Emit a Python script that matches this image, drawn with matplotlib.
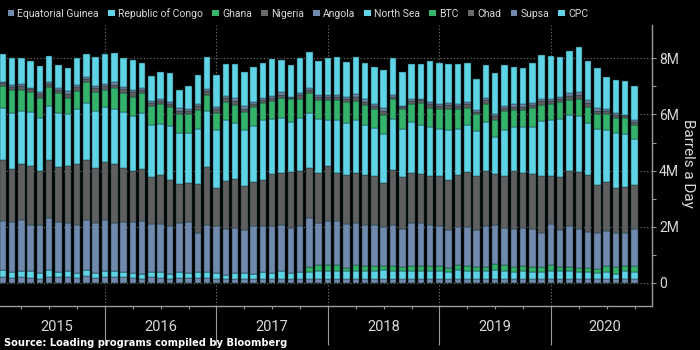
import numpy as np
import pandas as pd
import matplotlib
matplotlib.use('Agg')
import matplotlib.pyplot as plt
from matplotlib.patches import Patch
from matplotlib.ticker import FixedLocator, FuncFormatter
from matplotlib import font_manager
import matplotlib.transforms as mtransforms

# ---------------- data (million barrels a day) ----------------
dates = pd.date_range('2015-02-01', '2020-10-01', freq='MS')
years = ['2015', '2016', '2017', '2018', '2019', '2020']

eq_guinea = [.20,.18,.20,.18,.15,.20,.20,.20,.18,.25,.18,.20,.20,.20,.18,.15,.20,.18,.13,.18,.18,.18,.18,.15,
             .13,.14,.15,.13,.15,.15,.13,.13,.13,.13,.13,.13,.13,.13,.13,.13,.13,.13,.13,.13,.13,.13,.13,.13,
             .13,.13,.13,.13,.13,.13,.13,.13,.13,.13,.13,.13,.13,.13,.13,.13,.13,.13,.13,.13,.13]
congo = [.25,.21,.22,.24,.19,.25,.17,.22,.16,.20,.16,.22,.22,.19,.16,.17,.19,.21,.17,.19,.16,.19,.21,.19,
         .14,.20,.19,.18,.24,.19,.29,.21,.25,.26,.29,.29,.29,.29,.29,.29,.29,.31,.29,.29,.29,.29,.29,.29,
         .25,.31,.30,.30,.30,.32,.30,.27,.29,.27,.27,.30,.30,.29,.27,.27,.23,.27,.18,.30,.27]
ghana = [0]*33 + [.17,.20,.20,.20,.11,.20,.19,.19,.17,.19,.13,.19,.19,.19,.19,
                  .15,.18,.17,.14,.14,.20,.21,.17,.17,.17,.15,.21,.14,.13,.12,.12,.12,.19,.24,.16,.19]
angola = [1.76,1.76,1.80,1.64,1.72,1.86,1.78,1.71,1.72,1.77,1.79,1.81,1.71,1.76,1.81,1.89,1.71,1.71,1.71,1.76,
          1.81,1.42,1.67,1.67,1.64,1.62,1.55,1.70,1.62,1.67,1.64,1.62,1.63,1.76,1.52,1.59,1.59,1.57,1.50,1.46,
          1.45,1.37,1.45,1.35,1.51,1.53,1.45,1.42,1.35,1.38,1.40,1.32,1.45,1.41,1.32,1.34,1.37,1.34,1.21,1.46,
          1.31,1.47,1.38,1.29,1.28,1.25,1.21,1.19,1.31]
nigeria = [2.16,1.91,2.01,2.12,1.94,2.06,1.97,2.05,2.17,2.15,1.97,2.07,2.10,1.95,1.85,1.84,1.67,1.73,1.67,1.38,
           1.40,1.74,2.08,1.38,1.71,1.74,1.57,1.59,1.66,1.86,1.86,2.00,1.99,1.77,1.79,1.97,1.70,1.74,1.81,1.77,
           1.75,1.59,1.96,1.88,1.80,1.73,1.74,1.77,1.78,1.84,1.96,1.92,1.96,1.81,1.84,2.09,1.96,1.96,2.04,1.70,
           1.88,1.98,2.05,2.02,1.72,1.74,1.63,1.63,1.59]
north_sea = [1.87,2.00,1.90,1.90,1.88,1.92,1.94,1.83,1.97,2.05,2.02,1.96,1.97,1.98,1.94,2.00,1.84,1.83,1.91,1.84,
             1.79,1.95,1.99,2.04,2.17,1.99,1.98,2.00,2.13,1.96,1.95,1.77,1.89,1.97,1.90,1.64,1.90,1.86,1.86,1.79,
             1.72,1.74,1.81,1.70,1.81,1.74,1.75,1.68,1.80,1.64,1.65,1.60,1.75,1.31,1.64,1.56,1.64,1.69,1.96,2.00,
             2.07,1.97,1.99,1.86,2.00,1.86,1.95,1.90,1.64]
btc = [.77,.83,.74,.72,.72,.70,.71,.59,.64,.72,.68,.63,.73,.69,.70,.72,.69,.71,.68,.66,.67,.68,.57,.62,
       .67,.65,.64,.67,.62,.65,.71,.81,.67,.70,.69,.69,.70,.73,.70,.72,.65,.68,.72,.70,.65,.80,.68,.70,
       .73,.70,.62,.59,.66,.64,.69,.60,.60,.67,.57,.56,.60,.54,.60,.58,.55,.57,.54,.57,.49]
chad = [.10,.10,.14,.10,.12,.11,.11,.13,.13,.11,.14,.11,.13,.13,.15,.11,.11,.11,.11,.13,.11,.13,.12,.13,
        .11,.14,.13,.11,.09,.11,.13,.05,.12,.11,.10,.10,.10,.11,.14,.11,.11,.14,.08,.07,.10,.09,.13,.13,
        .14,.13,.13,.10,.11,.11,.10,.12,.12,.11,.14,.12,.12,.14,.16,.14,.11,.10,.10,.06,.12]
supsa = [.06,.06,.09,.06,.08,.07,.07,.09,.08,.07,.09,.08,.08,.09,.10,.08,.08,.07,.08,.09,.08,.08,.08,.08,
         .08,.09,.09,.07,.06,.08,.09,.03,.08,.07,.06,.07,.07,.07,.10,.08,.07,.09,.05,.05,.06,.06,.08,.08,
         .09,.08,.08,.06,.07,.07,.06,.08,.08,.08,.09,.08,.08,.10,.10,.10,.08,.07,.06,.04,.08]
cpc = [.97,.95,.93,.93,.92,.90,.83,.82,.98,.83,1.02,1.06,1.04,1.04,1.04,.86,.88,.97,1.01,.64,.81,1.02,1.15,1.14,
       1.15,1.23,1.23,1.24,1.25,1.30,1.14,1.13,1.24,1.28,1.23,1.33,1.37,1.26,1.32,1.28,1.32,1.35,1.35,1.23,
       1.26,1.24,1.47,1.43,1.38,1.41,1.40,1.12,1.19,1.49,1.46,1.33,1.30,1.42,1.56,1.51,1.42,1.51,1.59,1.40,
       1.42,1.14,1.19,1.20,1.19]

SLATE, CYAN, GREEN, GRAY = '#7189ad', '#5ed4e6', '#33b46a', '#5f5f5f'

# legend order (as shown in the chart)
legend_names = ['Equatorial Guinea', 'Republic of Congo', 'Ghana', 'Nigeria', 'Angola',
                'North Sea', 'BTC', 'Chad', 'Supsa', 'CPC']
legend_colors = [SLATE, CYAN, GREEN, '#6a6a6a', SLATE, CYAN, GREEN, '#6a6a6a', SLATE, CYAN]

# stacking order bottom -> top (as drawn)
stack = [(eq_guinea, SLATE), (congo, CYAN), (ghana, GREEN), (angola, SLATE), (nigeria, GRAY),
         (north_sea, CYAN), (btc, GREEN), (chad, GRAY), (supsa, SLATE), (cpc, CYAN)]

# ---------------- fonts ----------------
names = {f.name for f in font_manager.fontManager.ttflist}
NARROW = 'Liberation Sans Narrow' if 'Liberation Sans Narrow' in names else 'Roboto'
plt.rcParams['font.family'] = [NARROW, 'DejaVu Sans']

TXT = '#d9d9d9'
AX = '#9a9a9a'

fig = plt.figure(figsize=(7, 3.5), dpi=100, facecolor='black')
ax = fig.add_axes([0.0, 1 - 306 / 350, 652 / 700, (306 - 25) / 350], facecolor='black')

x = np.array([(d.year - 2015) * 12 + d.month - 1 for d in dates], dtype=float)
bottom = np.zeros(len(x))
for vals, col in stack:
    v = np.array(vals, dtype=float)
    ax.bar(x, v, bottom=bottom, width=0.7, color=col, edgecolor='#1c3a40',
           linewidth=0.35, zorder=3)
    bottom += v

ax.set_xlim(0.7, 70.88)
ax.set_ylim(-0.83, 9.19)

# spines
for s in ['top', 'left']:
    ax.spines[s].set_visible(False)
for s in ['bottom', 'right']:
    ax.spines[s].set_color(AX)
    ax.spines[s].set_linewidth(1.0)

# y axis on right
ax.yaxis.tick_right()
ax.yaxis.set_major_locator(FixedLocator([0, 2, 4, 6, 8]))
ax.yaxis.set_minor_locator(FixedLocator([1, 3, 5, 7]))
ax.yaxis.set_major_formatter(FuncFormatter(lambda v, p: '0' if v == 0 else f'{int(v)}M'))
ax.tick_params(axis='y', which='both', colors=AX, labelcolor=TXT, labelsize=10, length=3,
               width=0.8, pad=2, direction='out', left=False, right=True)
ax.grid(axis='y', which='major', color='#7a7a7a', linestyle=(0, (1, 2)), linewidth=0.8, zorder=0)

# x axis: year boundaries and quarters
year_bounds = [12, 24, 36, 48, 60]
ax.xaxis.set_major_locator(FixedLocator(year_bounds))
ax.xaxis.set_minor_locator(FixedLocator([q for q in range(3, 70, 3) if q % 12 != 0]))
ax.xaxis.set_major_formatter(FuncFormatter(lambda v, p: ''))
ax.tick_params(axis='x', which='major', colors=AX, length=28, width=0.8, direction='out')
ax.tick_params(axis='x', which='minor', colors=AX, length=2.5, width=0.8, direction='out')
ax.grid(axis='x', which='major', color='#7a7a7a', linestyle=(0, (1, 2)), linewidth=0.8, zorder=0)

trans = mtransforms.blended_transform_factory(ax.transData, fig.transFigure)
year_centers = [6.8, 18, 30, 42, 54, 65.8]
for yr, xc in zip(years, year_centers):
    ax.text(xc, 1 - 327 / 350, yr, transform=trans, ha='center', va='center',
            color=TXT, fontsize=10.5)

# right-hand label
fig.text(688 / 700, 1 - 163 / 350, 'Barrels a Day', rotation=270, ha='center', va='center',
         color=TXT, fontsize=11)

# legend
handles = [Patch(facecolor=c, edgecolor='none') for c in legend_colors]
leg = fig.legend(handles, legend_names, loc='upper left', bbox_to_anchor=(0.0, 1.0), ncol=10,
                 frameon=False, fontsize=7.5, handlelength=0.62, handleheight=0.62,
                 handletextpad=0.3, columnspacing=0.9, borderaxespad=0.45, borderpad=0.3)
for t in leg.get_texts():
    t.set_color(TXT)

# source
fig.text(4 / 700, 1 - 343 / 350, 'Source: Loading programs compiled by Bloomberg',
         ha='left', va='center', color='white', fontsize=7.15, fontweight='bold',
         family='DejaVu Sans')

fig.savefig('out.png', dpi=100, facecolor='black')
